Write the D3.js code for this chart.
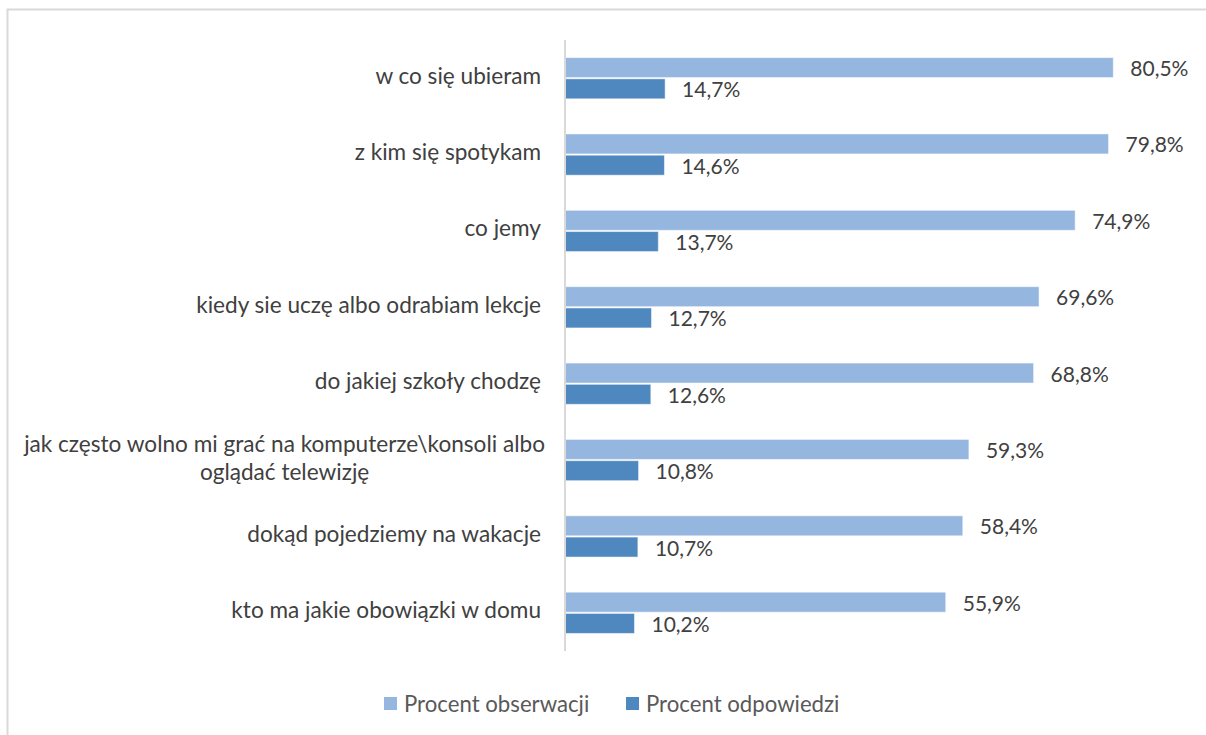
<!DOCTYPE html>
<html lang="pl">
<head>
	<meta charset="utf-8">
	<title>Procent obserwacji / odpowiedzi</title>
	<script src="https://d3js.org/d3.v7.min.js"></script>
	<style>
		body { margin: 0; background: #fff; font-family: "Lato", "Open Sans", sans-serif; }
		.cat { fill: #404040; font-size: 22.6px; }
		.val { fill: #404040; font-size: 21px; }
		.leg { fill: #595959; font-size: 22.2px; }
	</style>
</head>
<body>
	<script>
		// categories, top to bottom
		var categories = [
			"w co się ubieram",
			"z kim się spotykam",
			"co jemy",
			"kiedy sie uczę albo odrabiam lekcje",
			"do jakiej szkoły chodzę",
			"jak często wolno mi grać na komputerze\\konsoli albo\noglądać telewizję",
			"dokąd pojedziemy na wakacje",
			"kto ma jakie obowiązki w domu"
		];
		var seriesNames = ["Procent obserwacji", "Procent odpowiedzi"];
		var obserwacji = [80.5, 79.8, 74.9, 69.6, 68.8, 59.3, 58.4, 55.9];
		var odpowiedzi = [14.7, 14.6, 13.7, 12.7, 12.6, 10.8, 10.7, 10.2];
		var colors = ["#95b7df", "#4f88be"];

		var width = 1206, height = 735;

		var svg = d3.select("body").append("svg")
			.attr("width", width)
			.attr("height", height);

		// chart border (only top and left visible in frame)
		svg.append("rect")
			.attr("x", 7.5).attr("y", 9.5)
			.attr("width", 1300).attr("height", 800)
			.attr("fill", "none")
			.attr("stroke", "#d9d9d9")
			.attr("stroke-width", 2);

		var x = d3.scaleLinear().domain([0, 90]).range([565, 1178]);
		var y = d3.scaleBand().domain(d3.range(categories.length))
			.range([40, 651]).paddingInner(0.46).paddingOuter(0.23);
		var ys = d3.scaleBand().domain([0, 1]).range([0, y.bandwidth()]).paddingInner(0.06);

		var rows = categories.map(function(c, i) {
			return { i: i, name: c, vals: [obserwacji[i], odpowiedzi[i]] };
		});

		var g = svg.append("g");

		var row = g.selectAll(".row").data(rows).enter().append("g")
			.attr("class", "row")
			.attr("transform", function(d) { return "translate(0," + y(d.i) + ")"; });

		row.selectAll("rect").data(function(d) { return d.vals; }).enter().append("rect")
			.attr("x", x(0))
			.attr("y", function(v, j) { return ys(j); })
			.attr("width", function(v) { return x(v) - x(0); })
			.attr("height", ys.bandwidth())
			.attr("fill", function(v, j) { return colors[j]; })
			.attr("stroke", "#ffffff")
			.attr("stroke-opacity", 0.5)
			.attr("stroke-width", 1);

		row.selectAll(".val").data(function(d) { return d.vals; }).enter().append("text")
			.attr("class", "val")
			.attr("x", function(v) { return x(v) + 17; })
			.attr("y", function(v, j) { return ys(j) + ys.bandwidth() / 2; })
			.attr("dominant-baseline", "central")
			.text(function(v) { return d3.format(".1f")(v).replace(".", ",") + "%"; });

		// category axis
		var axis = d3.axisLeft(y).tickSize(0).tickFormat("");
		var ax = svg.append("g").attr("transform", "translate(" + x(0) + ",0)").call(axis);
		ax.select(".domain").attr("stroke", "#d9d9d9").attr("stroke-width", 2)
			.attr("d", "M0,40V651");

		// category labels (multi-line centered within a right-aligned block)
		rows.forEach(function(d) {
			var lines = d.name.split("\n");
			var cy = y(d.i) + y.bandwidth() / 2 - 3;
			var t = svg.append("text").attr("class", "cat")
				.attr("dominant-baseline", "central");
			if (lines.length === 1) {
				t.attr("text-anchor", "end").attr("x", 541).attr("y", cy).text(lines[0]);
			} else {
				t.attr("text-anchor", "middle");
				var tmp = [];
				lines.forEach(function(l, k) {
					tmp.push(t.append("tspan").attr("x", 0)
						.attr("y", cy + (k - (lines.length - 1) / 2) * 28).text(l));
				});
				var w = d3.max(tmp, function(s) { return s.node().getComputedTextLength(); });
				tmp.forEach(function(s) { s.attr("x", 545 - w / 2); });
			}
		});

		// legend
		var legX = [384, 626];
		var leg = svg.append("g");
		seriesNames.forEach(function(n, j) {
			leg.append("rect").attr("x", legX[j]).attr("y", 697)
				.attr("width", 13).attr("height", 13).attr("fill", colors[j]);
			leg.append("text").attr("class", "leg")
				.attr("x", legX[j] + 20).attr("y", 703.5)
				.attr("dominant-baseline", "central").text(n);
		});
	</script>
</body>
</html>
